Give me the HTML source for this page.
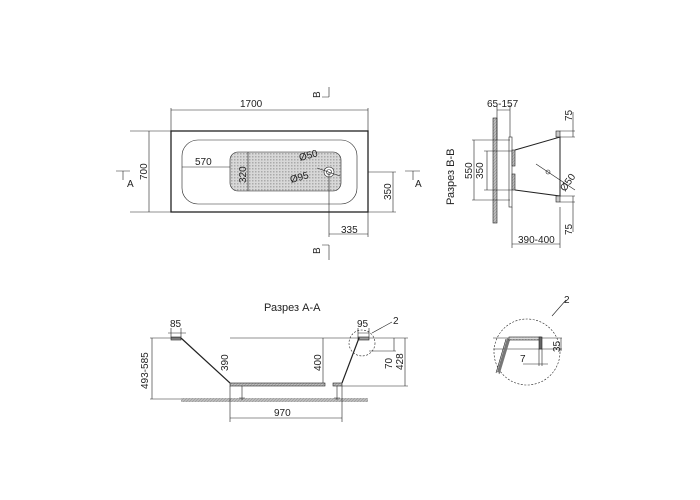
<!DOCTYPE html><html><head><style>body{margin:0;background:#fff}svg{display:block}text{font-family:"Liberation Sans",sans-serif;font-size:10px;fill:#222}</style></head><body>
<svg width="700" height="500" viewBox="0 0 700 500" xmlns="http://www.w3.org/2000/svg">
<defs><pattern id="h" width="3" height="3" patternUnits="userSpaceOnUse"><rect width="3" height="3" fill="#bbb"/><path d="M0 3L3 0" stroke="#888" stroke-width=".5"/></pattern>
<pattern id="m" width="3" height="3" patternUnits="userSpaceOnUse"><rect width="3" height="3" fill="#d8d8d8"/><rect width="1.5" height="1.5" fill="#aaa"/></pattern></defs>
<g stroke="#222" stroke-width=".6" fill="none">
<rect x="171" y="131" width="197" height="81" stroke-width="1.3"/>
<rect x="182" y="140" width="175" height="64" rx="16"/>
<rect x="230" y="152" width="111" height="39" rx="8" fill="url(#m)"/>
<circle cx="329" cy="172" r="5" fill="#fff"/><circle cx="329" cy="172" r="2.5"/>
<path d="M171 108V131M368 108V131M171 110H368M130 131H171M130 212H171M149 131V212M116 171H130M123 171V180M405 171H420M413 171V180M368 172H396M368 212H396M393 172V212M329 172V237M368 212V237M329 234H368M329 87V97M322 97H329M329 245V260M322 245H329M182 167H230M248 152V191M317 168L340 176"/>
<rect x="493" y="118" width="4" height="105" fill="url(#h)"/>
<rect x="509" y="137" width="3" height="70"/>
<rect x="512" y="150" width="3" height="16" fill="url(#h)"/><rect x="512" y="174" width="3" height="16" fill="url(#h)"/>
<path d="M515 150L560 137V196L515 190" stroke-width="1"/>
<rect x="556" y="131" width="4" height="6" fill="#ccc"/><rect x="556" y="196" width="4" height="6" fill="#ccc"/>
<path d="M497 105V140M510 105V137M497 110H510M472 140H510M472 200H510M474 140V200M484 151H512M484 190H512M487 151V190M512 207V248M560 207V248M512 244H560M560 131H575M560 137H575M560 196H575M560 202H575M573 112V137M573 196V232M536 164L575 190"/>
<circle cx="548" cy="172" r="2"/>
<rect x="181" y="398" width="187" height="4" fill="url(#h)" stroke="none"/>
<rect x="171" y="337" width="10" height="3" fill="#999"/><rect x="358" y="337" width="11" height="3" fill="#999"/>
<path d="M181 338L230 383M342 383L359 338" stroke-width="1.2"/>
<rect x="230" y="383" width="95" height="3" fill="url(#h)"/><rect x="333" y="383" width="9" height="3" fill="url(#h)"/>
<path d="M242 386V400M337 386V400M239 398H245M334 398H340M150 338H181M150 399H181M152 338V399M230 338H360M230 386V422M342 386V422M230 418H342M323 338V383M369 351H396M394 338V351M342 386H408M405 338V386M369 338H408M171 333H181M171 328V337M181 328V337M358 333H369M358 328V337M369 328V337M168 333H186"/>
<circle cx="362" cy="343" r="13" stroke-dasharray="2,1.5"/>
<path d="M372 333L392 322"/>
<circle cx="527" cy="352" r="33" stroke-dasharray="2,1.5"/>
<path d="M493 338H562M493 349H562M506 339L496 373M509 339L499 374M540 338V349M542 349V366M539 349V366M523 364H548M552 316L566 300M561 338V351"/>
<path d="M507 338L497 372L500 373L510 340Z" fill="#777" stroke="none"/>
<rect x="509" y="337" width="32" height="3" fill="url(#m)"/><rect x="539" y="337" width="3" height="12" fill="#666"/>
</g>
<text x="240" y="107">1700</text>
<text x="195" y="165">570</text>
<text transform="translate(147,180) rotate(-90)">700</text>
<text x="127" y="187">A</text><text x="415" y="187">A</text>
<text transform="translate(391,200) rotate(-90)">350</text>
<text x="341" y="233">335</text>
<text transform="translate(320,98) rotate(-90)">B</text><text transform="translate(320,254) rotate(-90)">B</text>
<text transform="translate(246,183) rotate(-90)">320</text>
<text transform="translate(300,161) rotate(-15)">Ø50</text>
<text transform="translate(291,183) rotate(-15)">Ø95</text>
<text x="487" y="107">65-157</text>
<text transform="translate(454,205) rotate(-90)" style="font-size:11px">Разрез B-B</text>
<text transform="translate(472,179) rotate(-90)">550</text>
<text transform="translate(483,179) rotate(-90)">350</text>
<text transform="translate(572,121) rotate(-90)">75</text>
<text transform="translate(572,235) rotate(-90)">75</text>
<text transform="translate(565,192) rotate(-55)">Ø50</text>
<text x="518" y="243">390-400</text>
<text x="264" y="311" style="font-size:11px">Разрез А-А</text>
<text x="170" y="327">85</text><text x="357" y="327">95</text>
<text x="393" y="324">2</text>
<text transform="translate(148,389) rotate(-90)">493-585</text>
<text transform="translate(228,371) rotate(-90)">390</text>
<text transform="translate(321,371) rotate(-90)">400</text>
<text transform="translate(392,369) rotate(-90)">70</text>
<text transform="translate(403,370) rotate(-90)">428</text>
<text x="274" y="416">970</text>
<text x="564" y="303">2</text>
<text transform="translate(560,352) rotate(-90)">35</text>
<text x="520" y="362">7</text>
</svg></body></html>
